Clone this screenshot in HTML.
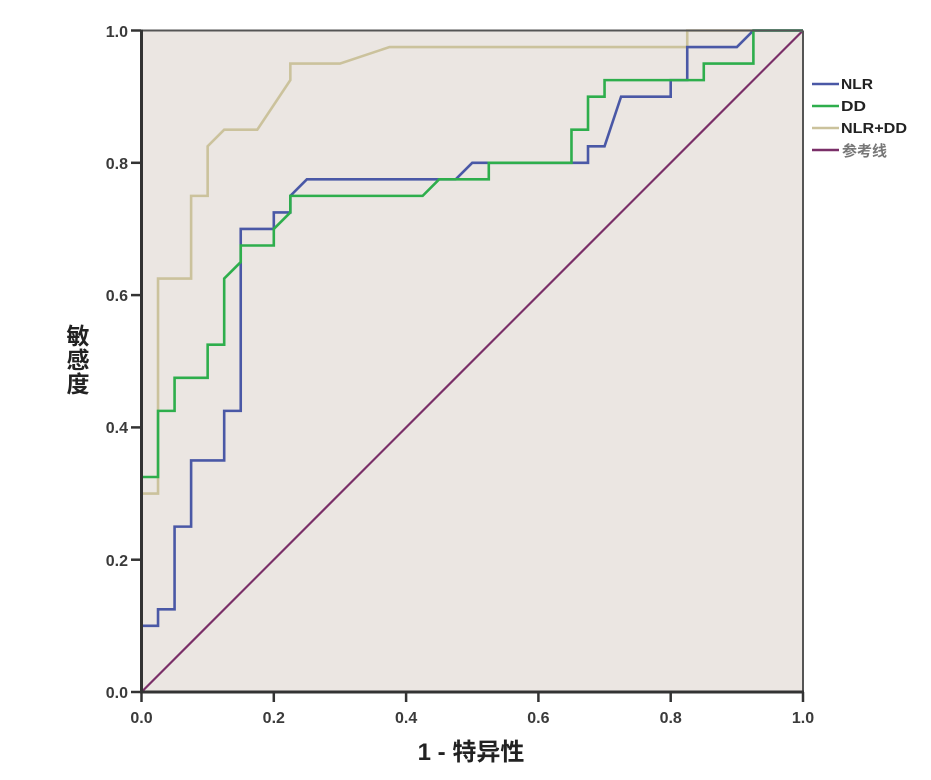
<!DOCTYPE html>
<html><head><meta charset="utf-8"><style>
html,body{margin:0;padding:0;background:#fff;}
svg{display:block;}
text{font-family:"Liberation Sans","Noto Sans CJK SC",sans-serif;}
</style></head><body>
<svg width="931" height="780" viewBox="0 0 931 780" xmlns="http://www.w3.org/2000/svg">
<rect x="0" y="0" width="931" height="780" fill="#ffffff"/>
<rect x="141.5" y="30.5" width="661.5" height="661.5" fill="#ebe6e2"/>
<g transform="translate(141.5,692) scale(661.5,-661.5)" fill="none" stroke-linejoin="miter">
<polyline vector-effect="non-scaling-stroke" stroke="#7a2f68" stroke-width="2.2" points="0,0 1,1"/>
<polyline vector-effect="non-scaling-stroke" stroke="#cbc29c" stroke-width="2.6" points="0,0 0,0.3 0.025,0.3 0.025,0.625 0.075,0.625 0.075,0.75 0.1,0.75 0.1,0.825 0.125,0.85 0.175,0.85 0.225,0.925 0.225,0.95 0.3,0.95 0.375,0.975 0.825,0.975 0.825,1 1,1"/>
<polyline vector-effect="non-scaling-stroke" stroke="#4a58a6" stroke-width="2.6" points="0,0 0,0.1 0.025,0.1 0.025,0.125 0.05,0.125 0.05,0.25 0.075,0.25 0.075,0.35 0.125,0.35 0.125,0.425 0.15,0.425 0.15,0.7 0.2,0.7 0.2,0.725 0.225,0.725 0.225,0.75 0.25,0.775 0.475,0.775 0.5,0.8 0.675,0.8 0.675,0.825 0.7,0.825 0.725,0.9 0.8,0.9 0.8,0.925 0.825,0.925 0.825,0.975 0.9,0.975 0.925,1 1,1"/>
<polyline vector-effect="non-scaling-stroke" stroke="#2eae4c" stroke-width="2.6" points="0,0 0,0.325 0.025,0.325 0.025,0.425 0.05,0.425 0.05,0.475 0.1,0.475 0.1,0.525 0.125,0.525 0.125,0.625 0.15,0.65 0.15,0.675 0.2,0.675 0.2,0.7 0.225,0.725 0.225,0.75 0.425,0.75 0.45,0.775 0.525,0.775 0.525,0.8 0.65,0.8 0.65,0.85 0.675,0.85 0.675,0.9 0.7,0.9 0.7,0.925 0.85,0.925 0.85,0.95 0.925,0.95 0.925,1 1,1"/>
</g>
<!-- frame -->
<line x1="141.5" y1="30.5" x2="803" y2="30.5" stroke="#555" stroke-width="2"/>
<line x1="803" y1="30.5" x2="803" y2="692" stroke="#555" stroke-width="2"/>
<line x1="141.5" y1="29.5" x2="141.5" y2="693" stroke="#333" stroke-width="3"/>
<line x1="140" y1="692" x2="804" y2="692" stroke="#333" stroke-width="3"/>
<g stroke="#333" stroke-width="2.5">
<line x1="131" y1="30.5" x2="141" y2="30.5"/>
<line x1="131" y1="162.8" x2="141" y2="162.8"/>
<line x1="131" y1="295.1" x2="141" y2="295.1"/>
<line x1="131" y1="427.4" x2="141" y2="427.4"/>
<line x1="131" y1="559.7" x2="141" y2="559.7"/>
<line x1="131" y1="692" x2="141" y2="692"/>
<line x1="141.5" y1="692" x2="141.5" y2="702"/>
<line x1="273.8" y1="692" x2="273.8" y2="702"/>
<line x1="406.1" y1="692" x2="406.1" y2="702"/>
<line x1="538.4" y1="692" x2="538.4" y2="702"/>
<line x1="670.7" y1="692" x2="670.7" y2="702"/>
<line x1="803" y1="692" x2="803" y2="702"/>
</g>
<g font-size="16" font-weight="bold" fill="#3a3a3a" text-anchor="end">
<text x="128" y="37">1.0</text>
<text x="128" y="169">0.8</text>
<text x="128" y="301">0.6</text>
<text x="128" y="433">0.4</text>
<text x="128" y="566">0.2</text>
<text x="128" y="698">0.0</text>
</g>
<g font-size="16" font-weight="bold" fill="#3a3a3a" text-anchor="middle">
<text x="141.5" y="723">0.0</text>
<text x="273.8" y="723">0.2</text>
<text x="406.1" y="723">0.4</text>
<text x="538.4" y="723">0.6</text>
<text x="670.7" y="723">0.8</text>
<text x="803" y="723">1.0</text>
</g>
<text x="471" y="760" font-size="24" font-weight="bold" fill="#222" text-anchor="middle">1 - 特异性</text>
<g font-size="23" font-weight="bold" fill="#222" text-anchor="middle">
<text x="78" y="344">敏</text>
<text x="78" y="368">感</text>
<text x="78" y="392">度</text>
</g>
<g stroke-width="2.6">
<line x1="812" y1="84" x2="839" y2="84" stroke="#4a58a6"/>
<line x1="812" y1="106" x2="839" y2="106" stroke="#2eae4c"/>
<line x1="812" y1="128" x2="839" y2="128" stroke="#cbc29c"/>
<line x1="812" y1="150" x2="839" y2="150" stroke="#7a2f68"/>
</g>
<g font-size="15" font-weight="bold" fill="#222">
<text x="841" y="89" textLength="32" lengthAdjust="spacingAndGlyphs">NLR</text>
<text x="841" y="111" textLength="25" lengthAdjust="spacingAndGlyphs">DD</text>
<text x="841" y="133" textLength="66" lengthAdjust="spacingAndGlyphs">NLR+DD</text>
<text x="842" y="156" fill="#777">参考线</text>
</g>
</svg>
</body></html>
